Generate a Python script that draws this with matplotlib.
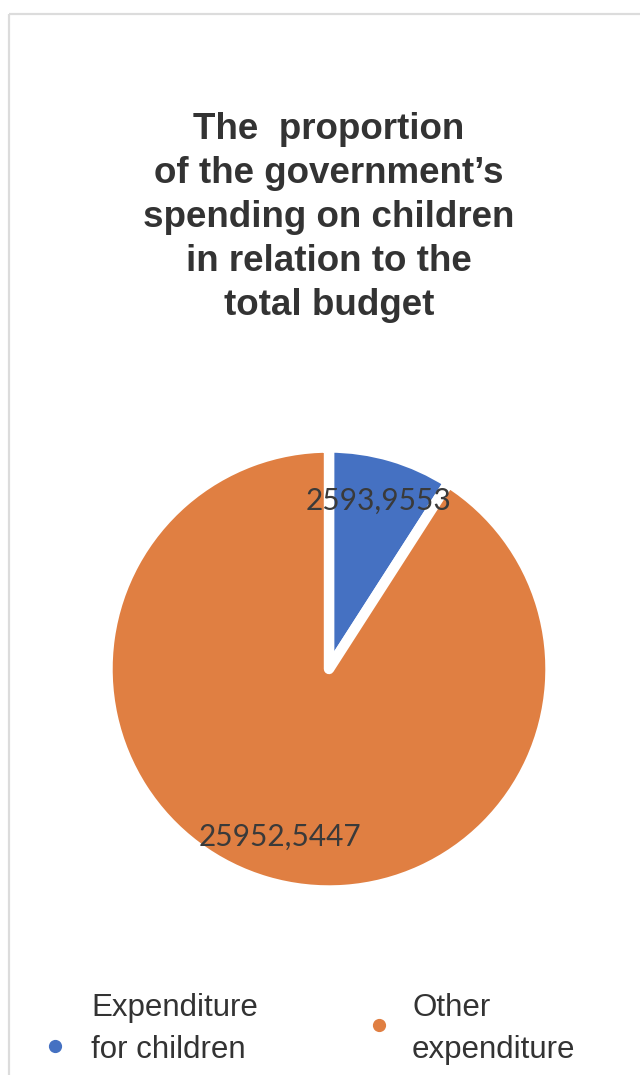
import matplotlib
matplotlib.use("Agg")
import matplotlib.pyplot as plt
from matplotlib.patches import Rectangle

# Budget split (values as published, decimal comma)
categories = ["Expenditure\nfor children", "Other\nexpenditure"]
values = [2593.9553, 25952.5447]
value_labels = ["2593,9553", "25952,5447"]
colors = ["#4571C2", "#E07F42"]
title_lines = ["The  proportion", "of the government\u2019s",
               "spending on children", "in relation to the", "total budget"]

W, H, DPI = 640, 1075, 100
fig = plt.figure(figsize=(W / DPI, H / DPI), dpi=DPI)
fig.patch.set_facecolor("white")

# Overlay axes in pixel units for frame, title and legend
ov = fig.add_axes([0, 0, 1, 1])
ov.set_xlim(0, W)
ov.set_ylim(H, 0)
ov.axis("off")
ov.add_patch(Rectangle((9, 14), W + 50, H + 50, fill=False,
                       edgecolor="#dcdcdc", linewidth=1.6))

# Title
for i, line in enumerate(title_lines):
    ov.text(329, 139 + 44 * i, line, ha="center", va="baseline",
            fontsize=26.5, fontweight="bold", family="Liberation Sans",
            color="#333333")

# Pie
cx, cy, R = 329, 669, 221.5
ax = fig.add_axes([(cx - R) / W, 1 - (cy + R) / H, 2 * R / W, 2 * R / H])

wedges, texts, autotexts = ax.pie(
    values, colors=colors, startangle=90, counterclock=False, radius=1,
    autopct="%1.1f", pctdistance=0.79,
    wedgeprops=dict(edgecolor="white", linewidth=7.5, joinstyle="round"),
    textprops=dict(family="Lato", fontsize=21.5, color="#3a3a3a"))
for t, lab in zip(autotexts, value_labels):
    t.set_text(lab)
ax.set_xlim(-1, 1)
ax.set_ylim(-1, 1)
ax.set_aspect("equal")
ax.axis("off")

# Legend
leg_font = dict(fontsize=22.5, family="Liberation Sans", color="#333333")
ov.plot([55], [1046], "o", color=colors[0], markersize=8.5)
ov.plot([379], [1025], "o", color=colors[1], markersize=8.5)
for x, label in [(91, categories[0]), (412, categories[1])]:
    for j, part in enumerate(label.split("\n")):
        ov.text(x, 1016 + 42 * j, part, ha="left", va="baseline", **leg_font)

fig.savefig("out.png", dpi=DPI, facecolor="white")
